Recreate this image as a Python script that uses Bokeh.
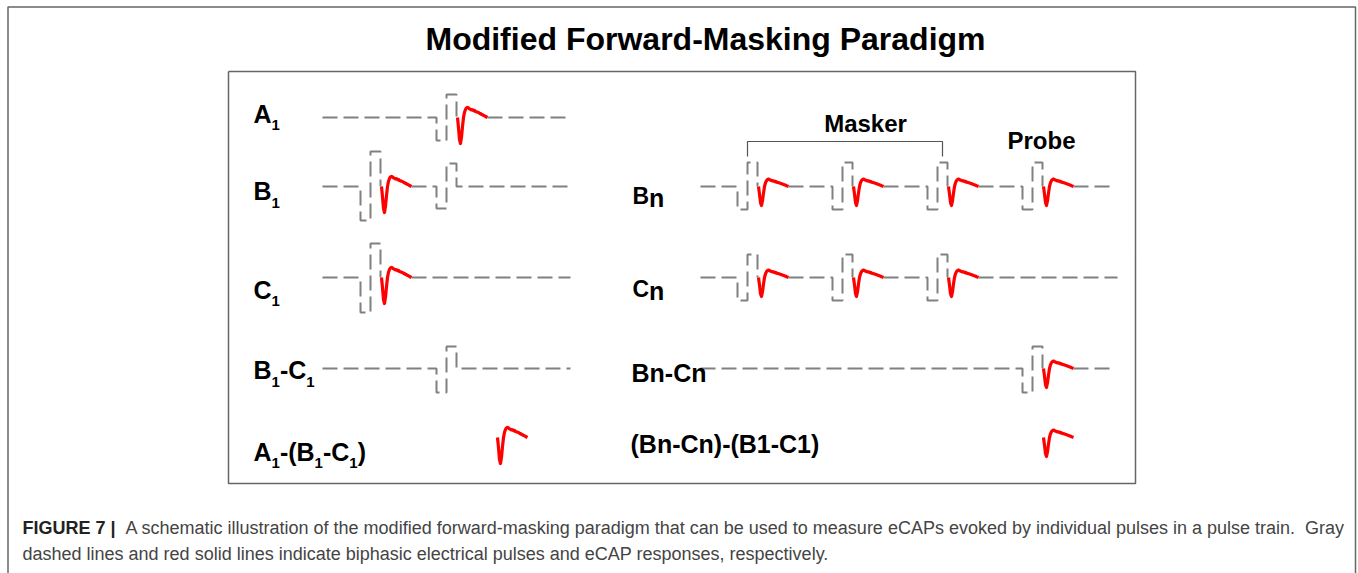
import math
from bokeh.plotting import figure
from bokeh.models import Range1d
from bokeh.core.properties import value
from bokeh.embed import file_html
from bokeh.resources import INLINE

# ---------------- schematic content ----------------
title = "Modified Forward-Masking Paradigm"
caption_bold = "FIGURE 7 |"
caption_line1 = ("A schematic illustration of the modified forward-masking paradigm that can be used "
                 "to measure eCAPs evoked by individual pulses in a pulse train.\u00a0 Gray")
caption_line2 = "dashed lines and red solid lines indicate biphasic electrical pulses and eCAP responses, respectively."

# eCAP template: time offset (px) and normalised amplitude (trough = -1)
ecap_dt = [0, 1, 2, 3, 4, 5, 6, 7, 8, 9, 10, 11, 12, 13, 14, 15, 16, 17, 18, 19,
           20, 21, 22, 23, 24, 25, 26, 27, 28, 29, 30]
ecap_amp = [0, -0.4, -0.85, -1.0, -0.75, -0.35, 0.0, 0.2, 0.31, 0.37, 0.39, 0.37, 0.33, 0.32, 0.29, 0.3,
            0.26, 0.27, 0.23, 0.22, 0.2, 0.19, 0.16, 0.15, 0.12, 0.11, 0.08, 0.07, 0.04, 0.02, 0.0]

# left panel: single-pulse conditions
left_labels = [[("A", 0), ("1", 1)],
               [("B", 0), ("1", 1)],
               [("C", 0), ("1", 1)],
               [("B", 0), ("1", 1), ("-C", 0), ("1", 1)],
               [("A", 0), ("1", 1), ("-(B", 0), ("1", 1), ("-C", 0), ("1", 1), (")", 0)]]
# pulses per row: (onset, cathodic depth, anodic height, evokes eCAP)
left_pulses = [[(436, 23, 23, True)],
               [(360, 34, 35, True), (436, 22, 23, False)],
               [(360, 35, 34, True)],
               [(436, 24, 22, False)]]
left_ecap_depth = 26

# right panel: pulse-train conditions
right_labels = ["Bn", "Cn", "Bn-Cn", "(Bn-Cn)-(B1-C1)"]
train_onsets = [737, 832, 927, 1022]
right_pulses = [[(t, 23, 24, True) for t in train_onsets],
                [(t, 23, 23, True) for t in train_onsets[:3]],
                [(train_onsets[3], 24, 22, True)]]
right_ecap_depth = 19
masker_label = "Masker"
probe_label = "Probe"

# ---------------- layout (screen pixels) ----------------
W, H = 1358, 573
p = figure(width=W, height=H, output_backend="svg", toolbar_location=None,
           x_range=Range1d(0, W), y_range=Range1d(H, 0),
           min_border=0, background_fill_color="white", border_fill_color="white")
p.axis.visible = False
p.grid.visible = False
p.outline_line_color = None

FONT = value("Liberation Sans")
GRAY = "#808080"
RED = "#ff0000"
FRAME = "#666666"

# frames
p.line([7.5, 7.5, 1355, 1355], [600, 6.5, 6.5, 600], line_color=FRAME, line_width=1.5)
p.line([228, 228, 1135, 1135, 228], [71, 483, 483, 71, 71], line_color=FRAME, line_width=1.5)

PW = 10  # phase width


def row_paths(y0, xs, xe, pulses, depth):
    gx, gy = [xs], [y0]
    reds = []
    for (t, a1, a2, ev) in pulses:
        gx += [t, t, t + PW, t + PW, t + 2 * PW, t + 2 * PW]
        gy += [y0, y0 + a1, y0 + a1, y0 - a2, y0 - a2, y0]
        if ev:
            s = t + 2 * PW + 1
            reds.append(([s + d for d in ecap_dt], [y0 - depth * a for a in ecap_amp]))
            gx += [math.nan, s + ecap_dt[-1]]
            gy += [math.nan, y0]
    gx.append(xe)
    gy.append(y0)
    return gx, gy, reds


left_y = [117, 186, 277, 368]
for y0, pul in zip(left_y, left_pulses):
    gx, gy, reds = row_paths(y0, 322, 570, pul, left_ecap_depth)
    p.line(gx, gy, line_color=GRAY, line_width=2, line_dash="15 6")
    for rx, ry in reds:
        p.line(rx, ry, line_color=RED, line_width=3.2, line_join="round")

right_y = [186, 277, 368]
right_end = [1110, 1117, 1110]
for y0, xe, pul in zip(right_y, right_end, right_pulses):
    gx, gy, reds = row_paths(y0, 700, xe, pul, right_ecap_depth)
    p.line(gx, gy, line_color=GRAY, line_width=2, line_dash="15 6")
    for rx, ry in reds:
        p.line(rx, ry, line_color=RED, line_width=3.2, line_join="round")

# isolated eCAPs (difference responses)
p.line([497 + d for d in ecap_dt], [437 - left_ecap_depth * a for a in ecap_amp],
       line_color=RED, line_width=3.2, line_join="round")
p.line([1043 + d for d in ecap_dt], [437 - right_ecap_depth * a for a in ecap_amp],
       line_color=RED, line_width=3.2, line_join="round")

# masker bracket
p.line([747, 747, 942, 942], [156, 141, 141, 156], line_color="#555555", line_width=1.2)


def txt(x, y, s, size, bold=True, align="left", color="black"):
    p.text(x=[x], y=[y], text=[s], text_font=FONT, text_font_size=f"{size}px",
           text_font_style="bold" if bold else "normal", text_align=align,
           text_baseline="middle", text_color=color)


# Arial/Liberation Sans Bold advance widths (per 1000 em)
BW = {"A": 722, "B": 722, "C": 722, "n": 611, "1": 556, "-": 333, "(": 333, ")": 333}


def composite(x, y, pieces, main=25, sub=15, drop=11.5):
    for s, is_sub in pieces:
        size = sub if is_sub else main
        txt(x, y + (drop if is_sub else 0), s, size)
        x += sum(BW[c] for c in s) / 1000 * size


txt(705, 38, title, 32, align="center")

left_mid = [113, 190.5, 289, 369.5, 451]
for lab, ym in zip(left_labels, left_mid):
    composite(253, ym, lab)

# right labels
txt(632, 195, "B", 23)
txt(632 + 0.722 * 23, 197.5, "n", 25)
txt(632, 288, "C", 23)
txt(632 + 0.722 * 23, 290.5, "n", 25)
txt(631, 372.5, right_labels[2], 25)
txt(630, 443.5, right_labels[3], 25)

txt(865, 123, masker_label, 24, align="center")
txt(1041, 140, probe_label, 24, align="center")

# caption
txt(22, 527, caption_bold, 18, color="#222222")
txt(125, 527, caption_line1, 18, bold=False, color="#444444")
txt(22, 553, caption_line2, 18, bold=False, color="#444444")

open("out.html", "w").write(file_html(p, INLINE))
